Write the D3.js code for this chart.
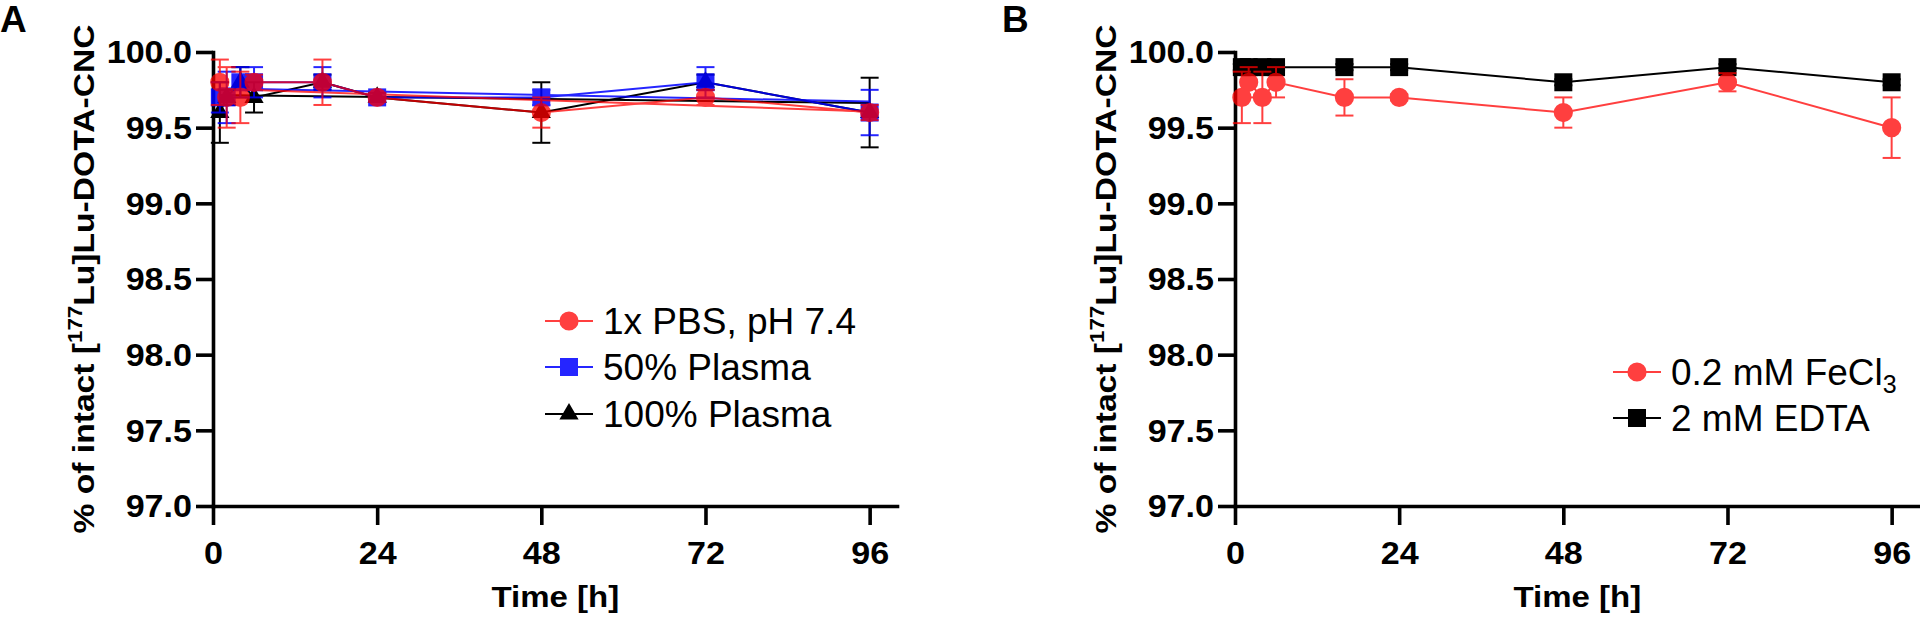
<!DOCTYPE html>
<html><head><meta charset="utf-8">
<script src="https://cdn.jsdelivr.net/npm/d3@7"></script>
<style>
html,body{margin:0;padding:0;background:#fff;}
svg{display:block;font-family:"Liberation Sans",Arial,Helvetica,sans-serif;}
</style></head>
<body>
<svg id="chart" width="1920" height="626"></svg>
<script>
// ---- data ----
const times = [1, 2, 4, 6, 16, 24, 48, 72, 96];
const pbsMean = [99.8, 99.7, 99.7, 99.8, 99.8, 99.7, 99.6, 99.7, 99.6];
const pbsSD   = [0.15, 0.2, 0.17, 0.05, 0.15, 0.03, 0.1, 0.05, 0.05];
const plasma50Mean = [99.7, 99.7, 99.8, 99.8, 99.8, 99.7, 99.7, 99.8, 99.6];
const plasma50SD   = [0.1, 0.17, 0.1, 0.1, 0.1, 0.03, 0.05, 0.1, 0.15];
const plasma100Mean = [99.6, 99.7, 99.8, 99.7, 99.8, 99.7, 99.6, 99.8, 99.6];
const plasma100SD   = [0.2, 0.05, 0.1, 0.1, 0.05, 0.03, 0.2, 0.05, 0.23];
const fecl3Mean = [99.7, 99.8, 99.7, 99.8, 99.7, 99.7, 99.6, 99.8, 99.5];
const fecl3SD   = [0.17, 0.1, 0.17, 0.1, 0.12, 0.02, 0.1, 0.06, 0.2];
const edtaMean = [99.9, 99.9, 99.9, 99.9, 99.9, 99.9, 99.8, 99.9, 99.8];
const edtaSD   = [0.02, 0.02, 0.02, 0.02, 0.02, 0.02, 0.02, 0.02, 0.02];
const xTicks = [0, 24, 48, 72, 96];
const yTicks = [97.0, 97.5, 98.0, 98.5, 99.0, 99.5, 100.0];
const xDomain = [0, 100];
const yDomain = [97, 100];
const panelLabels = ["A", "B"];
const legendA = ["1x PBS, pH 7.4", "50% Plasma", "100% Plasma"];
const legendB = ["0.2 mM FeCl", "2 mM EDTA"];
const xTitle = "Time [h]";

// ---- layout ----
const svg = d3.select("#chart");
const SX = 1.1;           // horizontal stretch of the bold labels
const plotTop = 52, plotBottom = 506, plotW = 684;

const series = {
  pbs:  {mean: pbsMean, sd: pbsSD, color: "#ff0000", op: 0.75, sym: d3.symbolCircle, size: 290},
  p50:  {mean: plasma50Mean, sd: plasma50SD, color: "#0000ff", op: 0.85, sym: d3.symbolSquare, size: 324},
  p100: {mean: plasma100Mean, sd: plasma100SD, color: "#000000", op: 1, sym: d3.symbolTriangle, size: 160},
  fe:   {mean: fecl3Mean, sd: fecl3SD, color: "#ff0000", op: 0.75, sym: d3.symbolCircle, size: 290},
  edta: {mean: edtaMean, sd: edtaSD, color: "#000000", op: 1, sym: d3.symbolSquare, size: 324}
};

const panels = [
  {label: panelLabels[0], ax: 213, labelX: 0, draw: ["p100", "p50", "pbs"], fit: true,
   legend: [["pbs", legendA[0]], ["p50", legendA[1]], ["p100", legendA[2]]],
   legX: 569, legTextX: 603, legY: [321, 367, 414]},
  {label: panelLabels[1], ax: 1235, labelX: 1002, draw: ["edta", "fe"], fit: false,
   legend: [["fe", legendB[0]], ["edta", legendB[1]]],
   legX: 1637, legTextX: 1671, legY: [372, 418]}
];

function linFit(xs, ys) {
  const mx = d3.mean(xs), my = d3.mean(ys);
  let sxy = 0, sxx = 0;
  xs.forEach((v, i) => { sxy += (v - mx) * (ys[i] - my); sxx += (v - mx) * (v - mx); });
  const b = sxy / sxx;
  return t => my + b * (t - mx);
}

panels.forEach(p => {
  const x = d3.scaleLinear().domain(xDomain).range([p.ax, p.ax + plotW]);
  const y = d3.scaleLinear().domain(yDomain).range([plotBottom, plotTop]);
  const g = svg.append("g");

  // axes
  const yAxis = d3.axisLeft(y).tickValues(yTicks).tickSize(17).tickSizeOuter(0)
    .tickFormat(d3.format(".1f"));
  const gy = g.append("g").attr("transform", `translate(${p.ax},0)`).call(yAxis);
  const xAxis = d3.axisBottom(x).tickValues(xTicks).tickSize(19).tickSizeOuter(0)
    .tickFormat(d3.format("d"));
  const gx = g.append("g").attr("transform", `translate(0,${plotBottom})`).call(xAxis);
  [gx, gy].forEach(a => {
    a.select(".domain").attr("stroke", "#000").attr("stroke-width", 3.6).attr("stroke-linecap", "square");
    a.selectAll(".tick line").attr("stroke", "#000").attr("stroke-width", 3.6);
    a.selectAll(".tick text").attr("fill", "#000").style("font-size", "31px").style("font-weight", "bold");
  });
  gy.selectAll(".tick text").attr("x", null).attr("dy", "0.35em")
    .attr("transform", `translate(-21,0) scale(${SX},1)`);
  gx.selectAll(".tick text").attr("y", null).attr("dy", null)
    .attr("transform", `translate(0,58) scale(${SX},1)`);

  // axis titles
  g.append("text").attr("text-anchor", "middle")
    .attr("transform", `translate(${p.ax + (x(96) - x(0)) / 2 + 14},607) scale(${SX},1)`)
    .style("font-size", "30px").style("font-weight", "bold").text(xTitle);
  const yt = g.append("text").attr("text-anchor", "middle")
    .attr("transform", `translate(${p.ax - 119},279) rotate(-90) scale(1.12,1)`)
    .style("font-size", "30px").style("font-weight", "bold");
  yt.append("tspan").text("% of intact [");
  yt.append("tspan").attr("dy", -12).style("font-size", "20px").text("177");
  yt.append("tspan").attr("dy", 12).text("Lu]Lu-DOTA-CNC");

  // panel label
  svg.append("text").attr("x", p.labelX).attr("y", 32)
    .style("font-size", "37px").style("font-weight", "bold").text(p.label);

  // series
  p.draw.forEach(key => {
    const s = series[key];
    const sg = g.append("g").attr("opacity", s.op);
    const pts = times.map((t, i) => ({t, m: s.mean[i], sd: s.sd[i]}));
    // error bars
    const eb = sg.selectAll("g.eb").data(pts).join("g");
    eb.append("line").attr("x1", d => x(d.t)).attr("x2", d => x(d.t))
      .attr("y1", d => y(d.m - d.sd)).attr("y2", d => y(d.m + d.sd))
      .attr("stroke", s.color).attr("stroke-width", 2);
    [-1, 1].forEach(sg2 => {
      eb.append("line").attr("x1", d => x(d.t) - 9).attr("x2", d => x(d.t) + 9)
        .attr("y1", d => y(d.m + sg2 * d.sd)).attr("y2", d => y(d.m + sg2 * d.sd))
        .attr("stroke", s.color).attr("stroke-width", 2);
    });
    // connecting line
    sg.append("path").datum(pts)
      .attr("d", d3.line().x(d => x(d.t)).y(d => y(d.m)))
      .attr("fill", "none").attr("stroke", s.color).attr("stroke-width", 2);
    // linear fit line
    if (p.fit) {
      const f = linFit(times, s.mean);
      const ext = d3.extent(times);
      sg.append("line").attr("x1", x(ext[0])).attr("x2", x(ext[1]))
        .attr("y1", y(f(ext[0]))).attr("y2", y(f(ext[1])))
        .attr("stroke", s.color).attr("stroke-width", 2);
    }
    // markers
    sg.selectAll("path.mk").data(pts).join("path").attr("class", "mk")
      .attr("d", d3.symbol().type(s.sym).size(s.size))
      .attr("transform", d => `translate(${x(d.t)},${y(d.m)})`)
      .attr("fill", s.color);
  });

  // legend
  p.legend.forEach(([key, txt], i) => {
    const s = series[key];
    const ly = p.legY[i];
    const lg = svg.append("g");
    const mk = lg.append("g").attr("opacity", s.op);
    mk.append("line").attr("x1", p.legX - 24).attr("x2", p.legX + 24)
      .attr("y1", ly).attr("y2", ly).attr("stroke", s.color).attr("stroke-width", 2);
    mk.append("path").attr("d", d3.symbol().type(s.sym).size(s.size)())
      .attr("transform", `translate(${p.legX},${ly})`).attr("fill", s.color);
    const t = lg.append("text").attr("x", p.legTextX).attr("y", ly).attr("dy", "0.35em")
      .style("font-size", "37px").attr("fill", "#000").text(txt);
    if (key === "fe") {
      t.append("tspan").attr("dy", 8).style("font-size", "25px").text("3");
    }
  });
});
</script>
</body></html>
